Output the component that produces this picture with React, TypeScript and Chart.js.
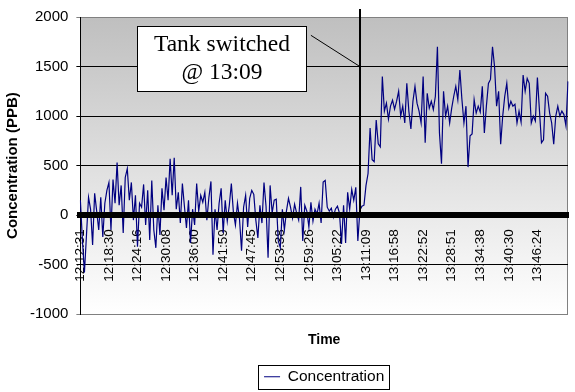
import React, { useEffect, useRef } from 'react';
import { Chart, registerables } from 'chart.js';

Chart.register(...registerables);

// Tick labels on the time axis (one every TICK_EVERY samples)
const TICK_TIMES = [
  '12:12:31', '12:18:30', '12:24:16', '12:30:08', '12:36:00', '12:41:59',
  '12:47:45', '12:53:38', '12:59:26', '13:05:22', '13:11:09', '13:16:58',
  '13:22:52', '13:28:51', '13:34:38', '13:40:30', '13:46:24',
];
const TICK_EVERY = 14;

// Concentration (PPB)
const concentration = [
  150, -250, -580, -200, 180, 60, -300, 220, 40, -150,
  180, -220, 120, 250, 330, -150, 360, 120, 530, 100,
  300, -180, 380, 470, 150, 330, -50, 200, -320, 120,
  80, 310, -100, 250, -250, 350, -150, -330, 100, -200,
  270, 50, 380, 150, 570, 200, 580, 60, 230, -80,
  320, 90, -130, 150, -280, 60, -100, 320, 40, 200,
  130, 230, -50, 180, 340, -400, 60, -150, 120, 270,
  -180, 150, -60, 100, 320, 30, -100, 120, -40, -360,
  80, 200, -120, 170, 250, 210, -50, -230, 100, -80,
  330, 90, -430, 300, 20, 150, 160, -260, -330, 60,
  -150, 40, 170, 80, -30, 110, 20, -50, 285, -260,
  100, 40, -120, 130, -60, 60, 10, 120, -80, 335,
  350, 80, 40, 70, -20, 60, 90, 20, -290, 100,
  -280, 230, 60, 260, 150, 280, -260, 50,
  90, 100, 300, 420, 880, 560, 540, 960, 720, 690, 1400, 1050,
  1130, 970, 1100, 1160, 1070, 1150, 1250, 1000, 1100, 930,
  1330, 1050, 870, 1150, 1300, 1130, 1050, 930, 1400, 730,
  1230, 1080, 1150, 1065, 1200, 1700, 830, 520, 1250, 1000,
  1100, 930, 1080, 1200, 1300, 1165, 1465, 1170, 930, 1100,
  485, 800, 820, 1165, 1030, 1100, 1040, 1300, 830, 1100,
  1330, 1370, 1700, 1500, 1100, 1250, 715, 1000, 1200, 1330,
  1080, 1150, 1100, 1120, 930, 1050, 940, 1415, 1250, 1380,
  1330, 930, 1000, 950, 1390, 1060, 730, 760, 1230, 1200,
  1030, 930, 715, 1000, 1100, 1000, 1050, 1015, 900, 1350,
];

const categories = concentration.map((_, i) =>
  i % TICK_EVERY === 0 ? TICK_TIMES[i / TICK_EVERY] ?? '' : ''
);

const Y_MIN = -1000;
const Y_MAX = 2000;
const Y_STEP = 500;

// Annotation anchors, in data units (category index, PPB)
const SWITCH_INDEX = 137;
const SWITCH_LINE_TOP = 2080;
const CALLOUT_TEXT = ['Tank switched', '@ 13:09'];
const CALLOUT_BOX = { x0: 28, x1: 110.4, yTop: 1905, yBottom: 1250 };
const LEADER = { x0: 113, y0: 1815, x1: SWITCH_INDEX, y1: 1500 };

const SANS = "'Liberation Sans', Arial, Helvetica, sans-serif";
const SERIF = "'Liberation Serif', 'Times New Roman', serif";

export default function App() {
  const ref = useRef<HTMLCanvasElement>(null);

  useEffect(() => {
    document.body.style.margin = '0';
    document.body.style.overflow = 'hidden';
    const canvas = ref.current;
    if (!canvas) return;

    const backgroundPlugin = {
      id: 'plotBackground',
      beforeDraw(chart: any) {
        const { ctx, chartArea: a } = chart;
        const g = ctx.createLinearGradient(0, a.top, 0, a.bottom);
        g.addColorStop(0, '#bfbfbf');
        g.addColorStop(1, '#ffffff');
        ctx.save();
        ctx.fillStyle = g;
        ctx.fillRect(a.left, a.top, a.right - a.left, a.bottom - a.top);
        ctx.strokeStyle = '#808080';
        ctx.lineWidth = 1;
        ctx.beginPath();
        ctx.moveTo(Math.round(a.right) - 0.5, a.top);
        ctx.lineTo(Math.round(a.right) - 0.5, a.bottom);
        ctx.stroke();
        ctx.restore();
      },
    };

    const annotationPlugin = {
      id: 'switchAnnotation',
      afterDatasetsDraw(chart: any) {
        const { ctx } = chart;
        const xs = chart.scales.x;
        const ys = chart.scales.y;
        ctx.save();
        // vertical switch line
        const sx = Math.round(xs.getPixelForValue(SWITCH_INDEX));
        ctx.strokeStyle = '#000';
        ctx.lineWidth = 2;
        ctx.beginPath();
        ctx.moveTo(sx, ys.getPixelForValue(0));
        ctx.lineTo(sx, ys.getPixelForValue(SWITCH_LINE_TOP));
        ctx.stroke();
        // leader line
        ctx.lineWidth = 1;
        ctx.beginPath();
        ctx.moveTo(xs.getPixelForValue(LEADER.x0), ys.getPixelForValue(LEADER.y0));
        ctx.lineTo(xs.getPixelForValue(LEADER.x1), ys.getPixelForValue(LEADER.y1));
        ctx.stroke();
        // callout box
        const bx0 = Math.round(xs.getPixelForValue(CALLOUT_BOX.x0)) + 0.5;
        const bx1 = Math.round(xs.getPixelForValue(CALLOUT_BOX.x1)) + 0.5;
        const by0 = Math.round(ys.getPixelForValue(CALLOUT_BOX.yTop)) + 0.5;
        const by1 = Math.round(ys.getPixelForValue(CALLOUT_BOX.yBottom)) + 0.5;
        ctx.fillStyle = '#fff';
        ctx.fillRect(bx0, by0, bx1 - bx0, by1 - by0);
        ctx.strokeStyle = '#000';
        ctx.strokeRect(bx0, by0, bx1 - bx0, by1 - by0);
        ctx.fillStyle = '#000';
        ctx.font = `23.5px ${SERIF}`;
        ctx.textAlign = 'center';
        ctx.textBaseline = 'middle';
        const cx = (bx0 + bx1) / 2;
        const cy = (by0 + by1) / 2;
        const lh = 28;
        CALLOUT_TEXT.forEach((t, i) => {
          ctx.fillText(t, cx, cy + (i - (CALLOUT_TEXT.length - 1) / 2) * lh);
        });
        ctx.restore();
      },
    };

    const legendBoxPlugin = {
      id: 'legendFrame',
      afterDraw(chart: any) {
        const lg = chart.legend;
        if (!lg || !lg.legendHitBoxes || !lg.legendHitBoxes.length) return;
        const hb = lg.legendHitBoxes[0];
        const { ctx } = chart;
        const midY = hb.top + hb.height / 2;
        const x0 = Math.round(hb.left - 6) + 0.5;
        const x1 = Math.round(hb.left + hb.width + 5) + 0.5;
        const y0 = Math.round(midY - 12) + 0.5;
        const y1 = Math.round(midY + 12) + 0.5;
        ctx.save();
        ctx.strokeStyle = '#000';
        ctx.lineWidth = 1;
        ctx.strokeRect(x0, y0, x1 - x0, y1 - y0);
        ctx.restore();
      },
    };

    Chart.defaults.font.family = SANS;
    Chart.defaults.color = '#000';

    const chart = new Chart(canvas, {
      type: 'line',
      data: {
        labels: categories,
        datasets: [
          {
            label: 'Concentration',
            data: concentration,
            borderColor: '#000080',
            backgroundColor: '#000080',
            borderWidth: 1.2,
            pointRadius: 0,
            tension: 0,
            fill: false,
          },
        ],
      },
      options: {
        animation: false,
        responsive: false,
        layout: { padding: { top: 13, right: 7, left: 0, bottom: 0 } },
        scales: {
          x: {
            type: 'category',
            position: { y: 0 } as any,
            offset: false,
            grid: { display: false, drawTicks: false },
            border: { display: true, color: '#000', width: 6, z: 1 } as any,
            ticks: {
              autoSkip: false,
              maxRotation: 90,
              minRotation: 90,
              padding: 14,
              color: '#000',
              font: { size: 13.5 },
            },
            afterFit(scale: any) {
              scale.paddingLeft = 0;
              scale.paddingRight = 0;
            },
          },
          y: {
            min: Y_MIN,
            max: Y_MAX,
            ticks: {
              stepSize: Y_STEP,
              color: '#000',
              padding: 8,
              font: { size: 15 },
              callback: (v: any) => String(v),
            },
            grid: {
              color: (c: any) =>
                c.tick && (c.tick.value === Y_MAX || c.tick.value === Y_MIN) ? '#808080' : '#000',
              tickLength: 4,
              lineWidth: 1,
            },
            border: { color: '#000', width: 1 },
            title: {
              display: true,
              text: 'Concentration (PPB)',
              color: '#000',
              font: { size: 15, weight: 'bold' },
              padding: { top: 4, bottom: 0 },
            },
          },
        },
        plugins: {
          title: {
            display: true,
            text: 'Time',
            position: 'bottom',
            fullSize: false,
            weight: 500,
            color: '#000',
            font: { size: 14, weight: 'bold' },
            padding: { top: 18, bottom: 4 },
          } as any,
          legend: {
            position: 'bottom',
            fullSize: false,
            maxHeight: 39,
            labels: {
              usePointStyle: true,
              pointStyle: 'line',
              pointStyleWidth: 16,
              color: '#000',
              font: { size: 15.5 },
              padding: 16,
            },
          } as any,
          tooltip: { enabled: false },
        },
      },
      plugins: [backgroundPlugin, annotationPlugin, legendBoxPlugin],
    });

    return () => chart.destroy();
  }, []);

  return (
    <div style={{ width: 575, height: 392 }}>
      <canvas ref={ref} width={575} height={392} style={{ display: 'block' }} />
    </div>
  );
}
